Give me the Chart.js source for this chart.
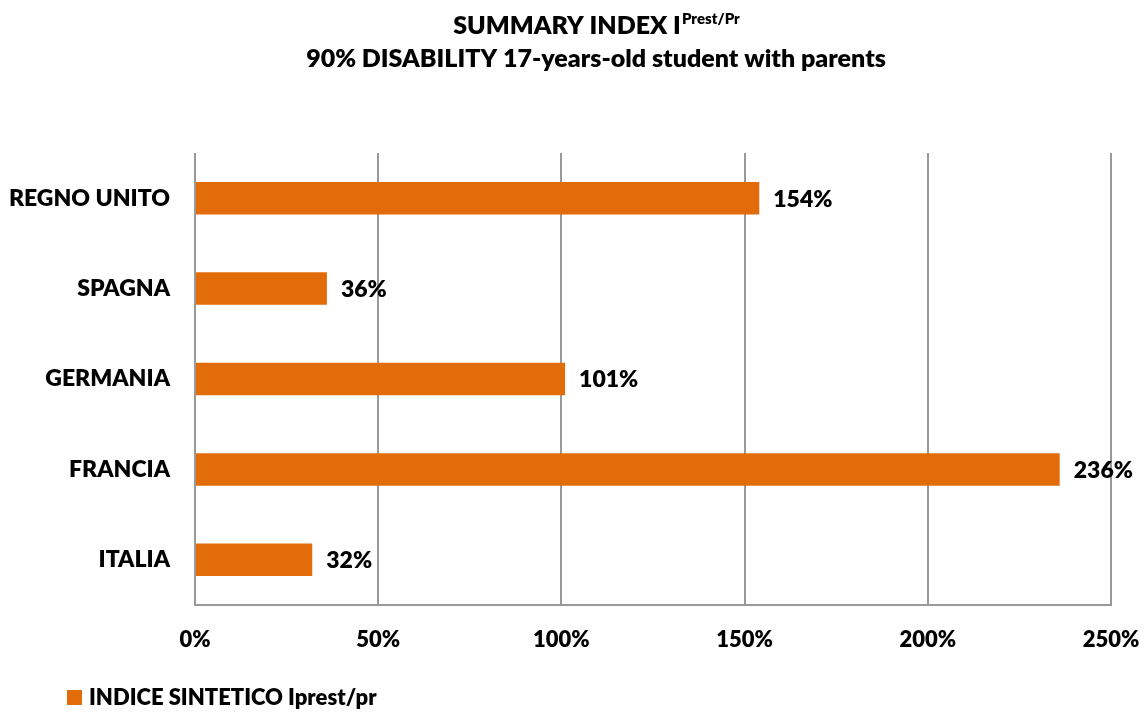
<!DOCTYPE html>
<html>
<head>
<meta charset="utf-8">
<script src="https://cdn.jsdelivr.net/npm/chart.js@4"></script>
<style>
  body { margin: 0; background: #fff; }
  #wrap { width: 1148px; height: 713px; }
</style>
</head>
<body>
<div id="wrap"><canvas id="chart" width="1148" height="713"></canvas></div>
<script>
// data
const countries = ['REGNO UNITO', 'SPAGNA', 'GERMANIA', 'FRANCIA', 'ITALIA'];
const indexValues = [154, 36, 101, 236, 32];
const seriesName = 'INDICE SINTETICO Iprest/pr';
const titleMain = 'SUMMARY INDEX I';
const titleSup = 'Prest/Pr';
const titleSub = '90% DISABILITY 17-years-old student with parents';

const ORANGE = '#E36C0A';
const GRID = '#999999';
const FONT = 'Lato, "Open Sans", sans-serif';
const W = '800';
const TITLE_X = 596;

// title, value labels and legend
const extras = {
    id: 'extras',
    afterDatasetsDraw(chart) {
        const ctx = chart.ctx;
        ctx.save();
        ctx.fillStyle = '#000';

        // title (with superscript)
        ctx.textBaseline = 'alphabetic';
        ctx.font = W + ' 25px ' + FONT;
        const w1 = ctx.measureText(titleMain).width;
        ctx.font = W + ' 15px ' + FONT;
        const w2 = ctx.measureText(titleSup).width;
        const x0 = TITLE_X - (w1 + w2) / 2;
        ctx.textAlign = 'left';
        ctx.font = W + ' 25px ' + FONT;
        ctx.fillText(titleMain, x0, 34);
        ctx.font = W + ' 15px ' + FONT;
        ctx.fillText(titleSup, x0 + w1 + 1, 24);
        ctx.font = W + ' 25px ' + FONT;
        ctx.textAlign = 'center';
        ctx.fillText(titleSub, TITLE_X, 67);

        // value labels
        const meta = chart.getDatasetMeta(0);
        ctx.font = W + ' 23px ' + FONT;
        ctx.textAlign = 'left';
        ctx.textBaseline = 'middle';
        meta.data.forEach((bar, i) => {
            ctx.fillText(indexValues[i] + '%', bar.x + 14, bar.y + 1);
        });

        // legend
        ctx.fillStyle = ORANGE;
        ctx.fillRect(67, 690, 15, 15);
        ctx.fillStyle = '#000';
        ctx.font = W + ' 22px ' + FONT;
        ctx.fillText(seriesName, 89, 698);
        ctx.restore();
    }
};

new Chart(document.getElementById('chart'), {
    type: 'bar',
    data: {
        labels: countries,
        datasets: [{
            label: seriesName,
            data: indexValues,
            backgroundColor: ORANGE,
            borderWidth: 0,
            categoryPercentage: 0.36,
            barPercentage: 1
        }]
    },
    options: {
        indexAxis: 'y',
        responsive: false,
        animation: false,
        layout: { padding: { left: 0, top: 153, right: 37, bottom: 0 } },
        plugins: {
            legend: { display: false },
            title: { display: false },
            tooltip: { enabled: false }
        },
        scales: {
            x: {
                min: 0,
                max: 250,
                ticks: {
                    stepSize: 50,
                    padding: 0,
                    color: '#000',
                    font: { family: FONT, size: 22, weight: W },
                    callback: v => v + '%'
                },
                // invisible tick marks push the labels down without extra side padding
                grid: { color: GRID, lineWidth: 2, drawTicks: true, tickLength: 22, tickColor: 'rgba(0,0,0,0)' },
                border: { display: true, color: GRID, width: 2 },
                afterFit: s => { s.height = 108; }
            },
            y: {
                ticks: {
                    padding: 25,
                    color: '#000',
                    font: { family: FONT, size: 23, weight: W }
                },
                grid: { display: false, drawTicks: false },
                border: { display: false },
                afterFit: s => { s.width = 195; }
            }
        }
    },
    plugins: [extras]
});
</script>
</body>
</html>
